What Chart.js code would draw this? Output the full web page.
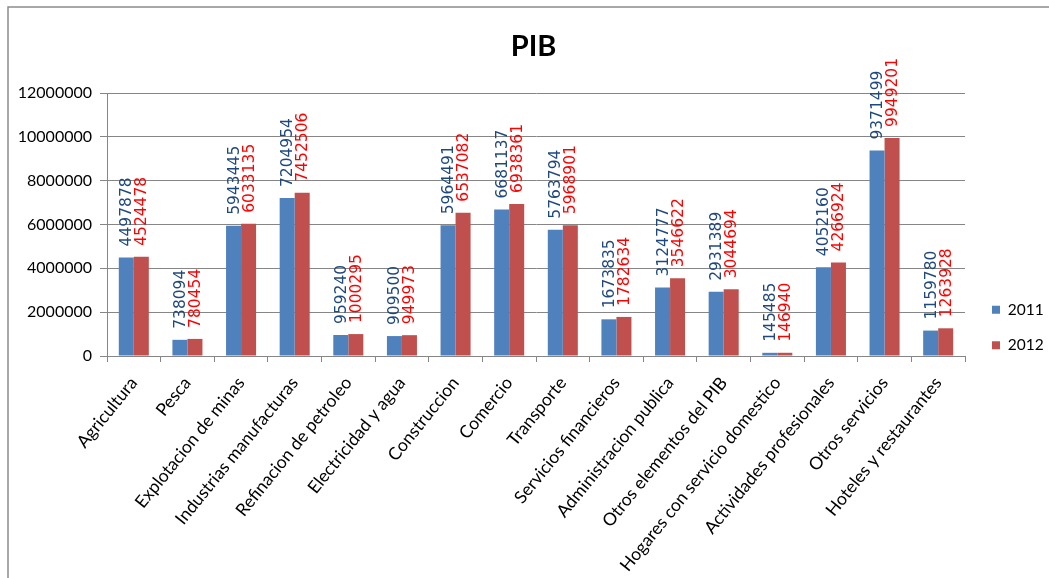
<!DOCTYPE html>
<html>
<head>
<meta charset="utf-8">
<title>PIB</title>
<script src="https://cdn.jsdelivr.net/npm/chart.js@4.4.1/dist/chart.umd.min.js"></script>
<style>
  html, body { margin: 0; padding: 0; background: #ffffff; }
  #wrap { width: 1049px; height: 578px; position: relative; }
  canvas { display: block; }
</style>
</head>
<body>
<div id="wrap"><canvas id="pib" width="1049" height="578"></canvas></div>
<script>
// Sectors of the economy
const categories = [
  'Agricultura', 'Pesca', 'Explotacion de minas', 'Industrias manufacturas',
  'Refinacion de petroleo', 'Electricidad y agua', 'Construccion', 'Comercio',
  'Transporte', 'Servicios financieros', 'Administracion publica',
  'Otros elementos del PIB', 'Hogares con servicio domestico',
  'Actividades profesionales', 'Otros servicios', 'Hoteles y restaurantes'
];

// GDP by sector, per year
const pib2011 = [4497878, 738094, 5943445, 7204954, 959240, 909500, 5964491, 6681137,
                 5763794, 1673835, 3124777, 2931389, 145485, 4052160, 9371499, 1159780];
const pib2012 = [4524478, 780454, 6033135, 7452506, 1000295, 949973, 6537082, 6938361,
                 5968901, 1782634, 3546622, 3044694, 146940, 4266924, 9949201, 1263928];

// Value axis ticks
const yTicks = [0, 2000000, 4000000, 6000000, 8000000, 10000000, 12000000];

const seriesNames = ['2011', '2012'];
const barColors = ['#4F81BD', '#C0504D'];
const labelColors = ['#1F497D', '#FF0000'];
const gridColor = '#868686';

// Outer frame of the chart object
const framePlugin = {
  id: 'frame',
  beforeDraw(chart) {
    const ctx = chart.ctx;
    ctx.save();
    ctx.fillStyle = '#ffffff';
    ctx.fillRect(0, 0, chart.width, chart.height);
    ctx.strokeStyle = '#8c8c8c';
    ctx.lineWidth = 1.5;
    ctx.beginPath();
    ctx.moveTo(8, chart.height + 2);
    ctx.lineTo(8, 7);
    ctx.lineTo(chart.width + 2, 7);
    ctx.stroke();
    ctx.restore();
  }
};

// Title centred over the whole frame, legend to the right of the plot
const placementPlugin = {
  id: 'placement',
  afterLayout(chart) {
    const t = chart.titleBlock;
    if (t) { t.left = 18; t.right = chart.width; }
    const lg = chart.legend;
    if (lg) {
      const w = lg.width, h = lg.height;
      lg.left = 972; lg.right = lg.left + w;
      lg.top = 282; lg.bottom = lg.top + h;
    }
  }
};

// Vertical value labels just above each bar
const valueLabelPlugin = {
  id: 'valueLabels',
  afterDatasetsDraw(chart) {
    const ctx = chart.ctx;
    ctx.save();
    ctx.font = '15.5px "DejaVu Sans"';
    ctx.textAlign = 'left';
    ctx.textBaseline = 'middle';
    chart.data.datasets.forEach((ds, di) => {
      const meta = chart.getDatasetMeta(di);
      ctx.fillStyle = labelColors[di];
      meta.data.forEach((bar, i) => {
        ctx.save();
        ctx.translate(bar.x, bar.y - 11);
        ctx.rotate(-Math.PI / 2);
        ctx.fillText(String(ds.data[i]), 0, 1);
        ctx.restore();
      });
    });
    ctx.restore();
  }
};

new Chart(document.getElementById('pib'), {
  type: 'bar',
  data: {
    labels: categories,
    datasets: [
      { label: seriesNames[0], data: pib2011, backgroundColor: barColors[0] },
      { label: seriesNames[1], data: pib2012, backgroundColor: barColors[1] }
    ]
  },
  options: {
    responsive: false,
    animation: false,
    devicePixelRatio: 1,
    categoryPercentage: 0.56,
    barPercentage: 1.0,
    layout: { padding: { left: 18, right: 84, top: 0, bottom: 0 } },
    plugins: {
      title: {
        display: true,
        text: 'PIB',
        color: '#000000',
        font: { family: 'Lato', size: 29, weight: 'bold' },
        padding: { top: 29, bottom: 29.2 }
      },
      legend: {
        display: true,
        position: 'chartArea',
        align: 'start',
        labels: {
          boxWidth: 8,
          boxHeight: 8,
          padding: 20,
          color: '#000000',
          font: { family: 'Lato', size: 15.5 }
        }
      },
      tooltip: { enabled: false }
    },
    scales: {
      x: {
        grid: {
          display: true,
          offset: true,
          drawOnChartArea: false,
          drawTicks: true,
          tickLength: 6,
          color: gridColor
        },
        border: { display: true, color: gridColor, width: 1 },
        ticks: {
          autoSkip: false,
          minRotation: 51,
          maxRotation: 51,
          padding: 11,
          color: '#000000',
          font: { family: 'Lato', size: 17.5 }
        },
        afterFit(scale) { scale.height = 222; }
      },
      y: {
        min: 0,
        max: 12000000,
        afterBuildTicks(scale) { scale.ticks = yTicks.map(v => ({ value: v })); },
        grid: {
          color: gridColor,
          drawTicks: true,
          tickLength: 7
        },
        border: { display: true, color: gridColor, width: 1 },
        ticks: {
          padding: 8,
          color: '#000000',
          font: { family: 'Lato', size: 16 },
          callback: (v) => String(v)
        },
        afterFit(scale) { scale.width = 89; }
      }
    }
  },
  plugins: [framePlugin, placementPlugin, valueLabelPlugin]
});
</script>
</body>
</html>
